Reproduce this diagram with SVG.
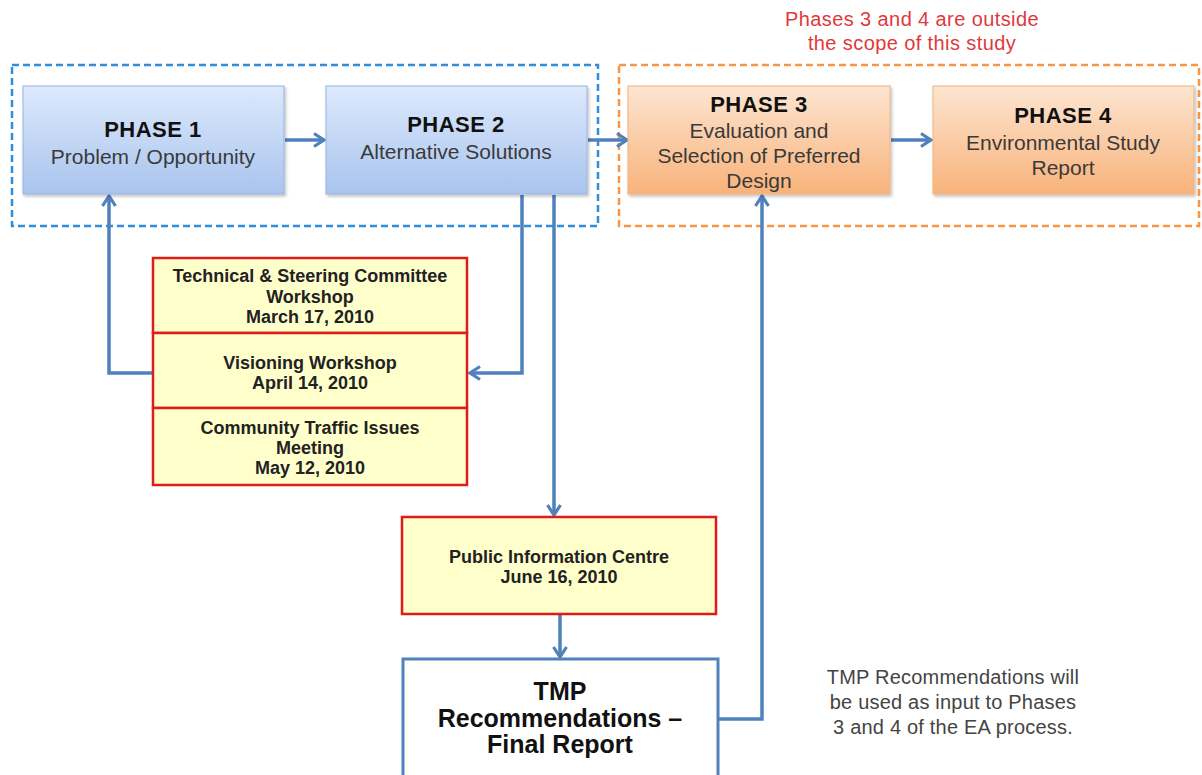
<svg xmlns="http://www.w3.org/2000/svg" width="1202" height="775" viewBox="0 0 1202 775">
<defs>
<linearGradient id="gBlue" x1="0" y1="0" x2="0" y2="1">
<stop offset="0" stop-color="#dde9fc"/>
<stop offset="1" stop-color="#a9c4ee"/>
</linearGradient>
<linearGradient id="gOrange" x1="0" y1="0" x2="0" y2="1">
<stop offset="0" stop-color="#fde6d2"/>
<stop offset="1" stop-color="#f8b27a"/>
</linearGradient>
<filter id="sh" x="-10%" y="-10%" width="130%" height="130%">
<feDropShadow dx="1.5" dy="2" stdDeviation="1.5" flood-color="#000" flood-opacity="0.25"/>
</filter>
<marker id="arr" viewBox="0 0 16 16" refX="13" refY="8" markerWidth="16" markerHeight="16" markerUnits="userSpaceOnUse" orient="auto">
<path d="M3,1.5 L13,8 L3,14.5" fill="none" stroke="#4f81bd" stroke-width="3.2" stroke-linejoin="miter"/>
</marker>
<style>
.grp-b{fill:none;stroke:#2f8ddb;stroke-width:2.5;stroke-dasharray:7 4}
.grp-o{fill:none;stroke:#f79646;stroke-width:2.5;stroke-dasharray:7 4}
.pb{fill:url(#gBlue);stroke:#95b3e3;stroke-width:1;filter:url(#sh)}
.po{fill:url(#gOrange);stroke:#f0b27e;stroke-width:1;filter:url(#sh)}
.yb{fill:#ffffcc;stroke:#e01b1b;stroke-width:2.5}
.tb{fill:#ffffff;stroke:#4f81bd;stroke-width:3}
.ph{font-family:"Liberation Sans",Arial,sans-serif;font-weight:bold;font-size:22px;fill:#111;text-anchor:middle;letter-spacing:0.5px}
.sub{font-family:"Liberation Sans",Arial,sans-serif;font-size:21px;fill:#3a3a3a;text-anchor:middle}
.yt{font-family:"Liberation Sans",Arial,sans-serif;font-weight:bold;font-size:18px;fill:#222;text-anchor:middle}
.tmp{font-family:"Liberation Sans",Arial,sans-serif;font-weight:bold;font-size:25px;fill:#111;text-anchor:middle}
.red{font-family:"Liberation Sans",Arial,sans-serif;font-size:20px;fill:#e0393b;text-anchor:middle;letter-spacing:0.4px}
.note{font-family:"Liberation Sans",Arial,sans-serif;font-size:20px;fill:#444;text-anchor:middle;letter-spacing:0.2px}
.c{fill:none;stroke:#4f81bd;stroke-width:3.5}
</style>
</defs>
<rect width="1202" height="775" fill="#ffffff"/>

<g id="scope-note">
<text class="red" x="912" y="26">Phases 3 and 4 are outside</text>
<text class="red" x="912" y="50">the scope of this study</text>
</g>

<g id="group-in-scope"><rect class="grp-b" x="12" y="65" width="586" height="161"/></g>
<g id="group-out-scope"><rect class="grp-o" x="619" y="65" width="580" height="161"/></g>

<g id="connectors">
<line class="c" x1="285" y1="140" x2="324" y2="140" marker-end="url(#arr)"/>
<line class="c" x1="588" y1="140" x2="627" y2="140" marker-end="url(#arr)"/>
<line class="c" x1="891" y1="140" x2="931" y2="140" marker-end="url(#arr)"/>
<polyline class="c" points="153,373 109,373 109,196" marker-end="url(#arr)"/>
<polyline class="c" points="522,195 522,373 470,373" marker-end="url(#arr)"/>
<line class="c" x1="554" y1="195" x2="554" y2="515" marker-end="url(#arr)"/>
<line class="c" x1="560" y1="615" x2="560" y2="657" marker-end="url(#arr)"/>
<polyline class="c" points="718,719 762,719 762,196" marker-end="url(#arr)"/>
</g>

<g id="phase1">
<rect class="pb" x="23" y="86" width="261" height="108"/>
<text class="ph" x="153" y="137">PHASE 1</text>
<text class="sub" x="153" y="164">Problem / Opportunity</text>
</g>
<g id="phase2">
<rect class="pb" x="326" y="86" width="261" height="108"/>
<text class="ph" x="456" y="132">PHASE 2</text>
<text class="sub" x="456" y="159">Alternative Solutions</text>
</g>
<g id="phase3">
<rect class="po" x="628" y="86" width="262" height="108"/>
<text class="ph" x="759" y="112">PHASE 3</text>
<text class="sub" x="759" y="138">Evaluation and</text>
<text class="sub" x="759" y="163">Selection of Preferred</text>
<text class="sub" x="759" y="188">Design</text>
</g>
<g id="phase4">
<rect class="po" x="933" y="86" width="261" height="108"/>
<text class="ph" x="1063" y="123">PHASE 4</text>
<text class="sub" x="1063" y="150">Environmental Study</text>
<text class="sub" x="1063" y="175">Report</text>
</g>

<g id="workshop-tsc">
<rect class="yb" x="153" y="258" width="314" height="75"/>
<text class="yt" x="310" y="282">Technical &amp; Steering Committee</text>
<text class="yt" x="310" y="303">Workshop</text>
<text class="yt" x="310" y="323">March 17, 2010</text>
</g>
<g id="workshop-visioning">
<rect class="yb" x="153" y="333" width="314" height="75"/>
<text class="yt" x="310" y="369">Visioning Workshop</text>
<text class="yt" x="310" y="389">April 14, 2010</text>
</g>
<g id="workshop-community">
<rect class="yb" x="153" y="408" width="314" height="77"/>
<text class="yt" x="310" y="434">Community Traffic Issues</text>
<text class="yt" x="310" y="454">Meeting</text>
<text class="yt" x="310" y="474">May 12, 2010</text>
</g>

<g id="pic">
<rect class="yb" x="402" y="517" width="314" height="97"/>
<text class="yt" x="559" y="563">Public Information Centre</text>
<text class="yt" x="559" y="583">June 16, 2010</text>
</g>

<g id="tmp-final">
<rect class="tb" x="403" y="659" width="315" height="140"/>
<text class="tmp" x="560" y="700">TMP</text>
<text class="tmp" x="560" y="727">Recommendations –</text>
<text class="tmp" x="560" y="753">Final Report</text>
</g>

<g id="tmp-note">
<text class="note" x="953" y="684">TMP Recommendations will</text>
<text class="note" x="953" y="709">be used as input to Phases</text>
<text class="note" x="953" y="734">3 and 4 of the EA process.</text>
</g>
</svg>
